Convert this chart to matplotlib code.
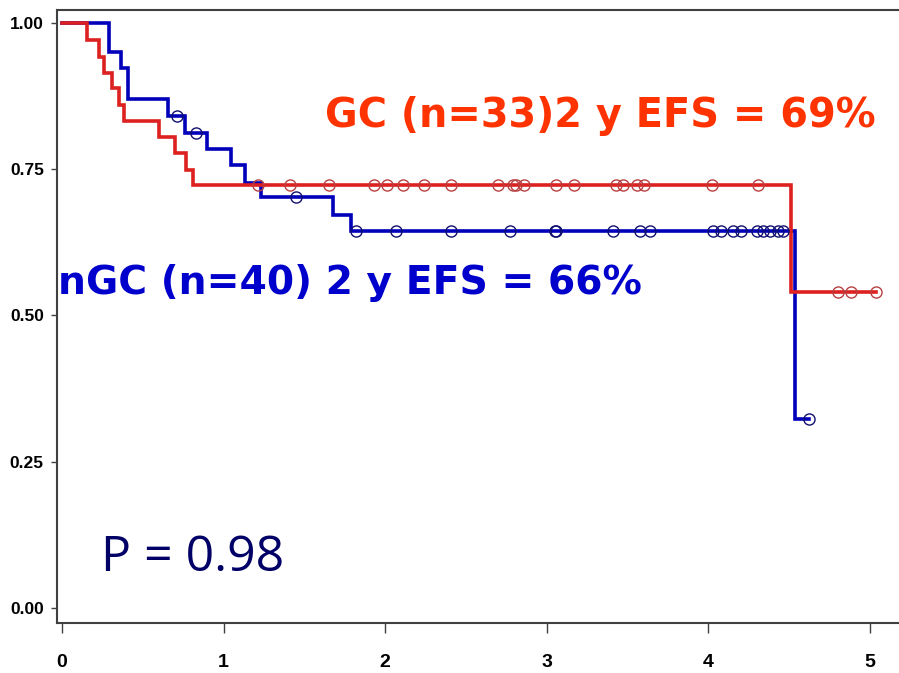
import numpy as np
import matplotlib.pyplot as plt

# Kaplan-Meier steps (years, survival)
gc_times = [0, 0.155, 0.23, 0.26, 0.31, 0.35, 0.385, 0.60, 0.70, 0.77, 0.81, 4.51]
gc_surv = [1.0, 0.97, 0.942, 0.915, 0.888, 0.86, 0.832, 0.805, 0.777, 0.749, 0.722, 0.54]
gc_end = 5.04
gc_censor = [1.21, 1.41, 1.65, 1.93, 2.01, 2.11, 2.24, 2.41, 2.70, 2.79, 2.81, 2.86,
             3.06, 3.17, 3.43, 3.47, 3.56, 3.60, 4.02, 4.31, 4.80, 4.88, 5.04]

ngc_times = [0, 0.29, 0.365, 0.41, 0.655, 0.76, 0.90, 1.045, 1.13, 1.23, 1.68, 1.79, 4.535]
ngc_surv = [1.0, 0.95, 0.922, 0.869, 0.84, 0.812, 0.784, 0.757, 0.727, 0.702, 0.672, 0.644, 0.322]
ngc_end = 4.62
ngc_censor = [0.71, 0.83, 1.45, 1.82, 2.07, 2.41, 2.77, 3.05, 3.06, 3.41, 3.58, 3.64,
              4.03, 4.08, 4.15, 4.20, 4.30, 4.34, 4.38, 4.43, 4.46, 4.62]

x_ticks = [0, 1, 2, 3, 4, 5]
y_ticks = [0.0, 0.25, 0.50, 0.75, 1.00]
y_labels = ['0.00', '0.25', '0.50', '0.75', '1.00']


def step_value(times, surv, t):
    i = np.searchsorted(times, t, side='right') - 1
    return np.array(surv)[i]


def plot_km(ax, times, surv, end, censor, line_col, mark_col):
    xs = list(times) + [end]
    ys = list(surv) + [surv[-1]]
    ax.step(xs, ys, where='post', color=line_col, lw=2.6, solid_joinstyle='miter', zorder=3)
    cy = step_value(times, surv, censor)
    ax.plot(censor, cy, 'o', ms=8, mfc='none', mec=mark_col, mew=1.0, zorder=4)


fig = plt.figure(figsize=(8.99, 6.73), dpi=100)
ax = fig.add_axes([57 / 899, 50 / 673, 1 - 57 / 899, 613 / 673])

plot_km(ax, ngc_times, ngc_surv, ngc_end, ngc_censor, '#0000bb', '#101070')
plot_km(ax, gc_times, gc_surv, gc_end, gc_censor, '#dd2020', '#b84040')

ax.set_xlim(-0.031, 5.18)
ax.set_ylim(-0.026, 1.022)
ax.set_xticks(x_ticks)
ax.set_yticks(y_ticks)
ax.set_yticklabels(y_labels)
for s in ['left', 'bottom', 'top']:
    ax.spines[s].set_color('#404040')
    ax.spines[s].set_linewidth(1.5)
ax.spines['right'].set_visible(False)
ax.tick_params(axis='x', length=7.5, width=1, color='#404040', pad=15)
ax.tick_params(axis='y', length=4.5, width=1, color='#404040', pad=5)
for lab in ax.get_xticklabels():
    lab.set_fontfamily('Liberation Sans')
    lab.set_fontweight('bold')
    lab.set_fontsize(14)
for lab in ax.get_yticklabels():
    lab.set_fontfamily('Liberation Sans')
    lab.set_fontweight('bold')
    lab.set_fontsize(12.5)

fig.text(325 / 899, 1 - 127 / 673, 'GC (n=33)2 y EFS = 69%', color='#ff3300',
         fontsize=28.7, fontweight='bold', family='DejaVu Sans', va='baseline', ha='left')
fig.text(58 / 899, 1 - 294 / 673, 'nGC (n=40) 2 y EFS = 66%', color='#0000cc',
         fontsize=28.3, fontweight='bold', family='DejaVu Sans', va='baseline', ha='left')
fig.text(101 / 899, 1 - 571 / 673, 'P = 0.98', color='#000066',
         fontsize=36, family='Open Sans', va='baseline', ha='left')

fig.savefig('out.png', dpi=100)
